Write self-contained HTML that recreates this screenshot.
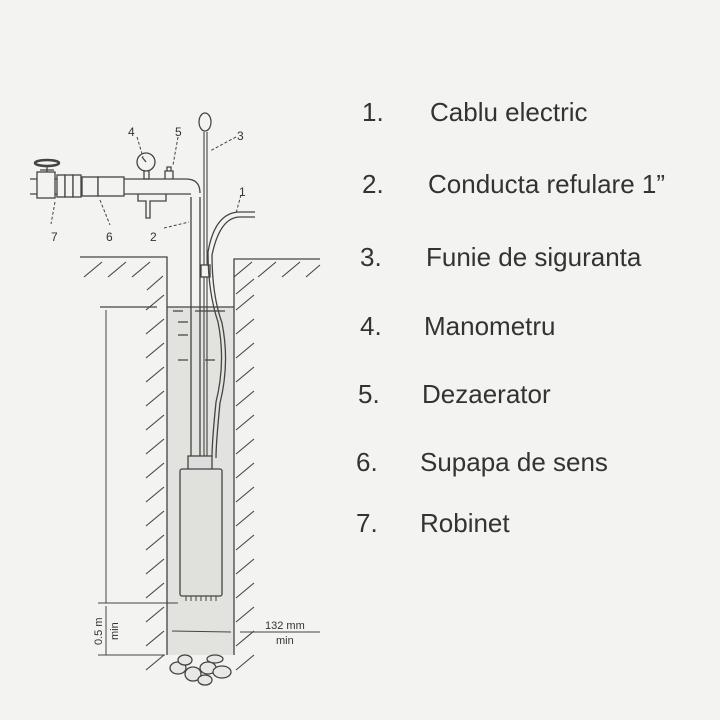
<!DOCTYPE html>
<html><head><meta charset="utf-8"><style>
html,body{margin:0;padding:0;background:#f3f3f1;}
.t{position:absolute;font-family:"Liberation Sans",sans-serif;color:#333;font-size:26px;}
</style></head><body>
<div style="position:relative;width:720px;height:720px;overflow:hidden;background:#f3f3f1">
<svg width="720" height="720" style="position:absolute;left:0;top:0" fill="none" stroke="#444" stroke-width="1.3">
<rect x="167" y="307" width="67" height="348" fill="#e2e2df" stroke="none"/>
<path d="M80 257H167V655M234 655V259H320"/>
<path d="M100 307H157M167 307H234" />
<g stroke-width="1.1">
<path d="M84 277l18-15M108 277l18-15M132 277l18-15M147 290l16-14M234 277l18-15M258 277l18-15M282 277l18-15M306 277l14-12"/>
<path d="M146 310l18-15M146 334l18-15M146 358l18-15M146 382l18-15M146 406l18-15M146 430l18-15M146 454l18-15M146 478l18-15M146 502l18-15M146 526l18-15M146 550l18-15M146 574l18-15M146 598l18-15M146 622l18-15M146 646l18-15M146 670l18-15"/>
<path d="M236 310l18-15M236 334l18-15M236 358l18-15M236 382l18-15M236 406l18-15M236 430l18-15M236 454l18-15M236 478l18-15M236 502l18-15M236 526l18-15M236 550l18-15M236 574l18-15M236 598l18-15M236 622l18-15M236 646l18-15M236 670l18-15M236 294l18-15"/>
</g>
<path d="M173 311h10M195 311h30M178 322h10M178 335h10M178 360h10M205 360h10"/>
<path d="M191 197V460M200 197V460"/>
<path d="M30 179H186q14 0 14 14M30 194H191"/>
<rect x="37" y="172" width="18" height="26" fill="#f3f3f1"/>
<ellipse cx="47" cy="163" rx="12" ry="3" stroke-width="2.5"/><path d="M47 166v6M40 170h14"/>
<rect x="57" y="175" width="8" height="22" fill="#f3f3f1"/><rect x="65" y="175" width="8" height="22" fill="#f3f3f1"/><rect x="73" y="175" width="8" height="22" fill="#f3f3f1"/>
<rect x="82" y="177" width="16" height="19" fill="#f3f3f1"/>
<rect x="98" y="177" width="26" height="19" fill="#f3f3f1"/>
<path d="M138 194v7h8v17h4v-17h16v-7"/>
<circle cx="146" cy="162" r="9" fill="#f3f3f1"/><path d="M146 162l-4-5M144 171v8h5v-8"/>
<path d="M165 179v-8h8v8M167 171v-4h4v4"/>
<ellipse cx="205" cy="122" rx="6" ry="9"/>
<path d="M204 132V460M207 132V460" stroke-width="1.1"/>
<rect x="201" y="265" width="9" height="12" fill="#f3f3f1"/>
<path d="M255 212H240q-25 0-32 40q0 40 10 70q8 40 -2 80q-4 40 -4 55M255 217H240q-20 0-28 38q0 40 10 68q8 40 -2 80q-4 40 -4 55"/>
<rect x="188" y="456" width="24" height="14" fill="#ddd"/>
<rect x="180" y="469" width="42" height="127" fill="#e0e0dd" rx="2"/>
<path d="M186 596v5M191 596v5M196 596v5M201 596v5M206 596v5M211 596v5M216 596v5" stroke-width="1"/>
<g fill="#e8e8e5"><ellipse cx="178" cy="668" rx="8" ry="6"/><ellipse cx="193" cy="674" rx="8" ry="7"/><ellipse cx="208" cy="668" rx="8" ry="6"/><ellipse cx="222" cy="672" rx="9" ry="6"/><ellipse cx="185" cy="660" rx="7" ry="5"/><ellipse cx="205" cy="680" rx="7" ry="5"/><ellipse cx="215" cy="659" rx="8" ry="4"/></g>
<path d="M106 310V603M106 606V655M98 603H178M98 655H165M172 631L231 632M240 632H320" stroke-width="1"/>
<path d="M137 137l6 20M178 137l-5 28M236 137l-26 14M241 195l-5 18M55 202l-4 22M100 200l10 25M164 228l25-6" stroke-width="1" stroke-dasharray="3 2"/>
<g fill="#333" stroke="none" font-family="Liberation Sans,sans-serif" font-size="12">
<text x="128" y="136">4</text><text x="175" y="136">5</text><text x="237" y="140">3</text><text x="239" y="196">1</text>
<text x="51" y="241">7</text><text x="106" y="241">6</text><text x="150" y="241">2</text>
<text x="265" y="629" font-size="11">132 mm</text><text x="276" y="644" font-size="11">min</text>
<text transform="translate(102 645) rotate(-90)" font-size="11">0.5 m</text>
<text transform="translate(118 640) rotate(-90)" font-size="11">min</text>
</g>
</svg>
<div class="t" style="left:362px;top:97px">1.</div><div class="t" style="left:430px;top:97px">Cablu electric</div>
<div class="t" style="left:362px;top:169px">2.</div><div class="t" style="left:428px;top:169px">Conducta refulare 1”</div>
<div class="t" style="left:360px;top:242px">3.</div><div class="t" style="left:426px;top:242px">Funie de siguranta</div>
<div class="t" style="left:360px;top:311px">4.</div><div class="t" style="left:424px;top:311px">Manometru</div>
<div class="t" style="left:358px;top:379px">5.</div><div class="t" style="left:422px;top:379px">Dezaerator</div>
<div class="t" style="left:356px;top:447px">6.</div><div class="t" style="left:420px;top:447px">Supapa de sens</div>
<div class="t" style="left:356px;top:508px">7.</div><div class="t" style="left:420px;top:508px">Robinet</div>
</div>
</body></html>
